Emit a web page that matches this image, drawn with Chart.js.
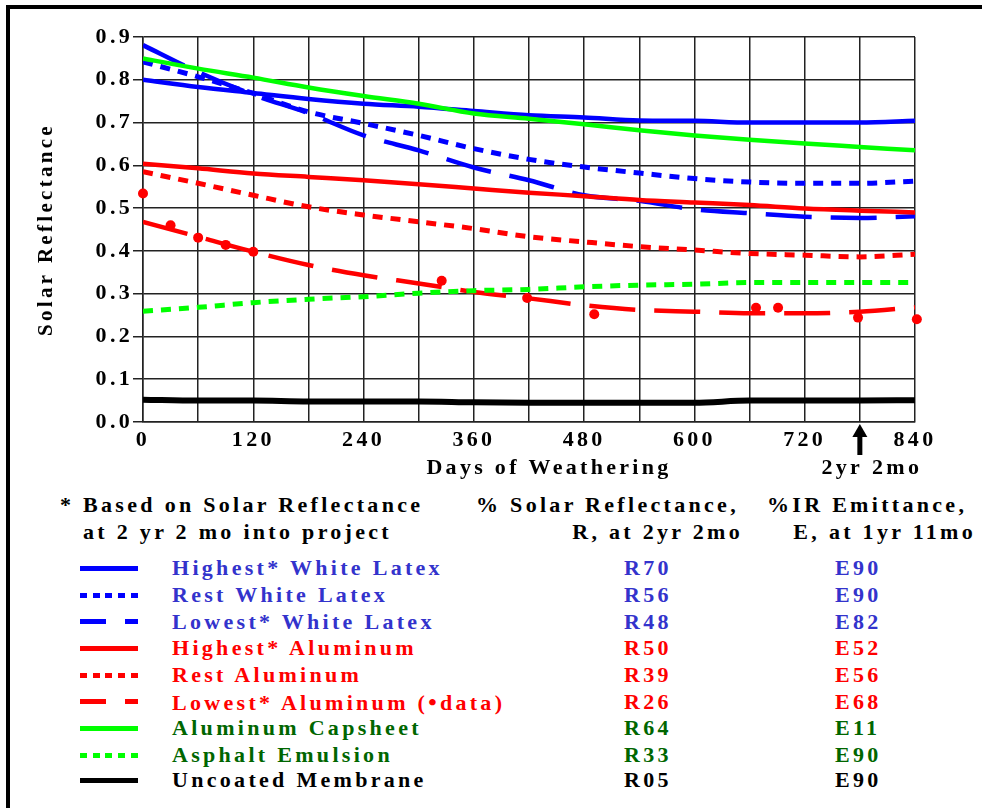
<!DOCTYPE html>
<html>
<head>
<meta charset="utf-8">
<script src="https://cdn.jsdelivr.net/npm/chart.js@4.4.1/dist/chart.umd.min.js"></script>
<style>
  html, body { margin: 0; padding: 0; background: #fff; }
  body { width: 982px; height: 808px; position: relative; overflow: hidden;
         font-family: "Liberation Serif", "Times New Roman", serif; font-weight: bold; }
  #frame { position: absolute; left: 6px; top: 5px; width: 990px; height: 820px;
           border-top: 4px solid #000; border-left: 4px solid #000; }
  #wrap { position: absolute; left: 0; top: 0; width: 982px; height: 490px; }
  .t { position: absolute; font-size: 22px; line-height: 26px; letter-spacing: 3.3px; white-space: pre; }
  .sample { position: absolute; left: 80px; width: 58px; height: 5px; }
  .bullet { font-size: 24px; }
</style>
</head>
<body>
<div id="frame"></div>
<div id="wrap"><canvas id="c"></canvas></div>
<div id="legend"></div>
<script>
// ---- data ----
const days = [0, 60, 120, 180, 240, 300, 360, 420, 480, 540, 600, 660, 720, 780, 840];
const highestWhiteLatex = [0.800, 0.783, 0.769, 0.755, 0.744, 0.737, 0.727, 0.717, 0.712, 0.705, 0.704, 0.700, 0.700, 0.700, 0.704];
const restWhiteLatex    = [0.842, 0.807, 0.768, 0.725, 0.698, 0.670, 0.639, 0.614, 0.596, 0.582, 0.569, 0.561, 0.558, 0.558, 0.563];
const lowestWhiteLatex  = [0.881, 0.818, 0.765, 0.722, 0.670, 0.635, 0.595, 0.565, 0.530, 0.517, 0.497, 0.488, 0.480, 0.477, 0.481];
const highestAluminum   = [0.604, 0.593, 0.581, 0.573, 0.565, 0.556, 0.546, 0.536, 0.528, 0.519, 0.513, 0.507, 0.499, 0.494, 0.490];
const restAluminum      = [0.585, 0.558, 0.530, 0.503, 0.484, 0.468, 0.452, 0.433, 0.421, 0.410, 0.402, 0.394, 0.390, 0.386, 0.392];
const lowestAluminum    = [0.468, 0.433, 0.398, 0.367, 0.343, 0.324, 0.304, 0.289, 0.273, 0.262, 0.258, 0.254, 0.254, 0.258, 0.268];
const aluminumCapsheet  = [0.850, 0.826, 0.805, 0.782, 0.762, 0.744, 0.721, 0.709, 0.696, 0.682, 0.670, 0.660, 0.651, 0.643, 0.635];
const asphaltEmulsion   = [0.259, 0.268, 0.279, 0.287, 0.293, 0.301, 0.307, 0.310, 0.316, 0.320, 0.322, 0.326, 0.326, 0.326, 0.326];
const uncoatedMembrane  = [0.052, 0.050, 0.050, 0.048, 0.048, 0.048, 0.046, 0.045, 0.045, 0.045, 0.045, 0.050, 0.050, 0.050, 0.051];

const lowestAlDataDays   = [0, 30, 60, 90, 120, 325, 418, 491, 667, 691, 778, 842];
const lowestAlDataValues = [0.534, 0.460, 0.431, 0.414, 0.398, 0.330, 0.290, 0.252, 0.267, 0.267, 0.244, 0.240];

const seriesLabels = ["Highest* White Latex", "Rest White Latex", "Lowest* White Latex",
                      "Highest* Aluminum", "Rest Aluminum", "Lowest* Aluminum (\u2022data)",
                      "Aluminum Capsheet", "Asphalt Emulsion", "Uncoated Membrane"];
const reflectanceLabels = ["R70", "R56", "R48", "R50", "R39", "R26", "R64", "R33", "R05"];
const emittanceLabels   = ["E90", "E90", "E82", "E52", "E56", "E68", "E11", "E90", "E90"];
const yTickLabels = ["0.0", "0.1", "0.2", "0.3", "0.4", "0.5", "0.6", "0.7", "0.8", "0.9"];
const xTickLabels = ["0", "120", "240", "360", "480", "600", "720", "840"];
const xTitle = "Days of Weathering";
const yTitle = "Solar Reflectance";
const arrowDay = 780;
const arrowLabel = "2yr 2mo";

// ---- styles ----
const BLUE = "#0000ff", RED = "#ff0000", GREEN = "#00ff00", BLACK = "#000000";
const DOT = [10, 8], LONG = [46, 19];
const seriesValues = [highestWhiteLatex, restWhiteLatex, lowestWhiteLatex, highestAluminum, restAluminum,
                      lowestAluminum, aluminumCapsheet, asphaltEmulsion, uncoatedMembrane];
const lineColors = [BLUE, BLUE, BLUE, RED, RED, RED, GREEN, GREEN, BLACK];
const lineDashes = [[], DOT, LONG, [], DOT, LONG, [], DOT, []];
const lineWidths = [4.5, 5, 4.5, 4.5, 5, 4.5, 4.5, 5, 6];
const textColors = ["#3333cc", "#3333cc", "#3333cc", "#ff0000", "#ff0000", "#ff0000", "#006600", "#006600", "#000000"];

const datasets = seriesValues.map((vals, i) => ({
  label: seriesLabels[i],
  data: days.map((d, j) => ({ x: d, y: vals[j] })),
  borderColor: lineColors[i],
  backgroundColor: lineColors[i],
  borderWidth: lineWidths[i],
  borderDash: lineDashes[i],
  borderCapStyle: 'butt',
  pointRadius: 0,
  fill: false,
  cubicInterpolationMode: 'monotone',
  order: 10 - i
}));
datasets.push({
  label: "Lowest* Aluminum data",
  type: 'scatter',
  data: lowestAlDataDays.map((d, j) => ({ x: d, y: lowestAlDataValues[j] })),
  backgroundColor: RED,
  borderColor: RED,
  pointRadius: 5,
  pointBorderWidth: 0,
  showLine: false,
  clip: false,
  order: 0
});

const FONT = "'Liberation Serif', 'Times New Roman', serif";
const SP = '3.3px';
Chart.defaults.font.family = FONT;
Chart.defaults.font.weight = 'bold';
Chart.defaults.color = '#000';

const spacing = {
  id: 'spacing',
  beforeUpdate(chart) { chart.ctx.letterSpacing = SP; },
  beforeLayout(chart) { chart.ctx.letterSpacing = SP; },
  beforeDraw(chart) { chart.ctx.letterSpacing = SP; }
};

// x-axis title (drawn slightly right of centre, as in the original) and the 2yr 2mo arrow
const annotations = {
  id: 'annotations',
  afterDraw(chart) {
    const ctx = chart.ctx;
    const ca = chart.chartArea;
    const x = chart.scales.x.getPixelForValue(arrowDay);
    const b = ca.bottom;
    ctx.save();
    ctx.fillStyle = '#000';
    ctx.letterSpacing = SP;
    ctx.font = "bold 22px " + FONT;
    ctx.textAlign = 'center';
    ctx.textBaseline = 'middle';
    ctx.fillText(xTitle, (ca.left + ca.right) / 2 + 20, b + 46);
    ctx.beginPath();
    ctx.moveTo(x, b + 2);
    ctx.lineTo(x + 7.5, b + 15);
    ctx.lineTo(x - 7.5, b + 15);
    ctx.closePath();
    ctx.fill();
    ctx.fillRect(x - 2.5, b + 14, 5, 19);
    ctx.fillText(arrowLabel, x + 12, b + 46);
    ctx.restore();
  }
};

new Chart(document.getElementById('c'), {
  type: 'line',
  data: { datasets },
  options: {
    responsive: true,
    maintainAspectRatio: false,
    animation: false,
    layout: { padding: { left: 0, right: 67, top: 37, bottom: 0 } },
    plugins: { legend: { display: false }, tooltip: { enabled: false } },
    scales: {
      x: {
        type: 'linear', min: 0, max: 840,
        afterFit(s) { s.height = 68; },
        ticks: {
          stepSize: 60, autoSkip: false, maxRotation: 0, padding: 5,
          font: { size: 22, weight: 'bold' }, color: '#000',
          callback: (v) => xTickLabels.includes(String(v)) ? String(v) : ''
        },
        grid: { color: '#222', lineWidth: 1.5, drawTicks: false },
        border: { color: '#222', width: 1.5 },
        title: { display: false, text: xTitle }
      },
      y: {
        min: 0, max: 0.9,
        afterFit(s) { s.width = 143; },
        ticks: {
          stepSize: 0.1, padding: 0, color: '#000',
          font: { size: 22, weight: 'bold' },
          callback: (v) => yTickLabels[Math.round(v * 10)]
        },
        grid: { color: '#222', lineWidth: 1.5, tickLength: 10 },
        border: { color: '#222', width: 1.5 },
        title: { display: true, text: yTitle, color: '#000',
                 font: { size: 21, weight: 'bold' }, padding: { top: 34, bottom: 0 } }
      }
    }
  },
  plugins: [spacing, annotations]
});

// ---- legend table (HTML) ----
const legend = document.getElementById('legend');
function addText(txt, left, right, cy, color) {
  const d = document.createElement('div');
  d.className = 't';
  const parts = txt.split('\u2022');
  if (parts.length > 1) {
    d.appendChild(document.createTextNode(parts[0]));
    const b = document.createElement('span');
    b.className = 'bullet';
    b.textContent = '\u2022';
    d.appendChild(b);
    d.appendChild(document.createTextNode(parts[1]));
  } else {
    d.textContent = txt;
  }
  d.style.top = (cy - 13) + 'px';
  if (left != null) d.style.left = left + 'px';
  if (right != null) { d.style.right = (982 - right) + 'px'; }
  d.style.color = color || '#000';
  legend.appendChild(d);
  return d;
}
addText("* Based on Solar Reflectance", 60, null, 505);
addText("at 2 yr 2 mo into project", 83, null, 532);
addText("% Solar Reflectance,", 476, null, 505);
addText("R, at 2yr 2mo", null, 743, 532);
addText("%IR Emittance,", 767, null, 505);
addText("E, at 1yr 11mo", null, 976, 532);

const rowY = [568, 595, 621.5, 648, 675, 701.5, 728, 755, 780];
function sampleBg(color, dash) {
  if (dash === DOT) return `repeating-linear-gradient(to right, ${color} 0 7px, transparent 7px 12.75px)`;
  if (dash === LONG) return `linear-gradient(to right, ${color} 0 26px, transparent 26px 45px, ${color} 45px 58px)`;
  return color;
}
seriesLabels.forEach((lab, i) => {
  const s = document.createElement('div');
  s.className = 'sample';
  s.style.top = (rowY[i] - 2.5) + 'px';
  s.style.background = sampleBg(lineColors[i], lineDashes[i]);
  legend.appendChild(s);
  addText(lab, 172, null, rowY[i], textColors[i]);
  addText(reflectanceLabels[i], 624, null, rowY[i], textColors[i]);
  addText(emittanceLabels[i], 835, null, rowY[i], textColors[i]);
});
</script>
</body>
</html>
